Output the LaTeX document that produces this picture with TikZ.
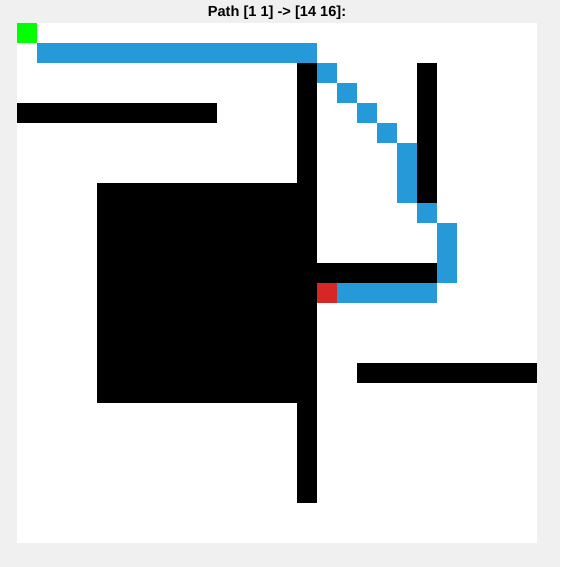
\documentclass[tikz,border=0pt]{standalone}
\usepackage{fontspec}
\setmainfont{Liberation Sans}
\definecolor{bggray}{RGB}{240,240,240}
\definecolor{pathblue}{RGB}{38,154,216}
\definecolor{startgreen}{RGB}{0,255,0}
\definecolor{goalred}{RGB}{215,38,38}
\begin{document}
\begin{tikzpicture}[x=1pt,y=-1pt,
  wall/.style={fill=black},
  pathcell/.style={fill=pathblue},
  startcell/.style={fill=startgreen},
  goalcell/.style={fill=goalred}]
\fill[bggray] (0,0) rectangle (560,567);
\useasboundingbox (0,0) rectangle (560,567);
\fill[white] (17,23) rectangle (537,543);
% walls
\fill[wall] (17,103) rectangle (217,123);
\fill[wall] (297,63) rectangle (317,503);
\fill[wall] (97,183) rectangle (317,403);
\fill[wall] (417,63) rectangle (437,203);
\fill[wall] (317,263) rectangle (437,283);
\fill[wall] (357,363) rectangle (537,383);
% path
\fill[pathcell] (37,43) rectangle (317,63);
\fill[pathcell] (317,63) rectangle (337,83);
\fill[pathcell] (337,83) rectangle (357,103);
\fill[pathcell] (357,103) rectangle (377,123);
\fill[pathcell] (377,123) rectangle (397,143);
\fill[pathcell] (397,143) rectangle (417,203);
\fill[pathcell] (417,203) rectangle (437,223);
\fill[pathcell] (437,223) rectangle (457,283);
\fill[pathcell] (337,283) rectangle (437,303);
% start / goal
\fill[startcell] (17,23) rectangle (37,43);
\fill[goalcell] (317,283) rectangle (337,303);
\node[font=\bfseries\fontsize{14.6pt}{17pt}\selectfont, anchor=base, inner sep=0pt] (title) at (277,17) {Path [1 1] -> [14 16]:};
\end{tikzpicture}
\end{document}
